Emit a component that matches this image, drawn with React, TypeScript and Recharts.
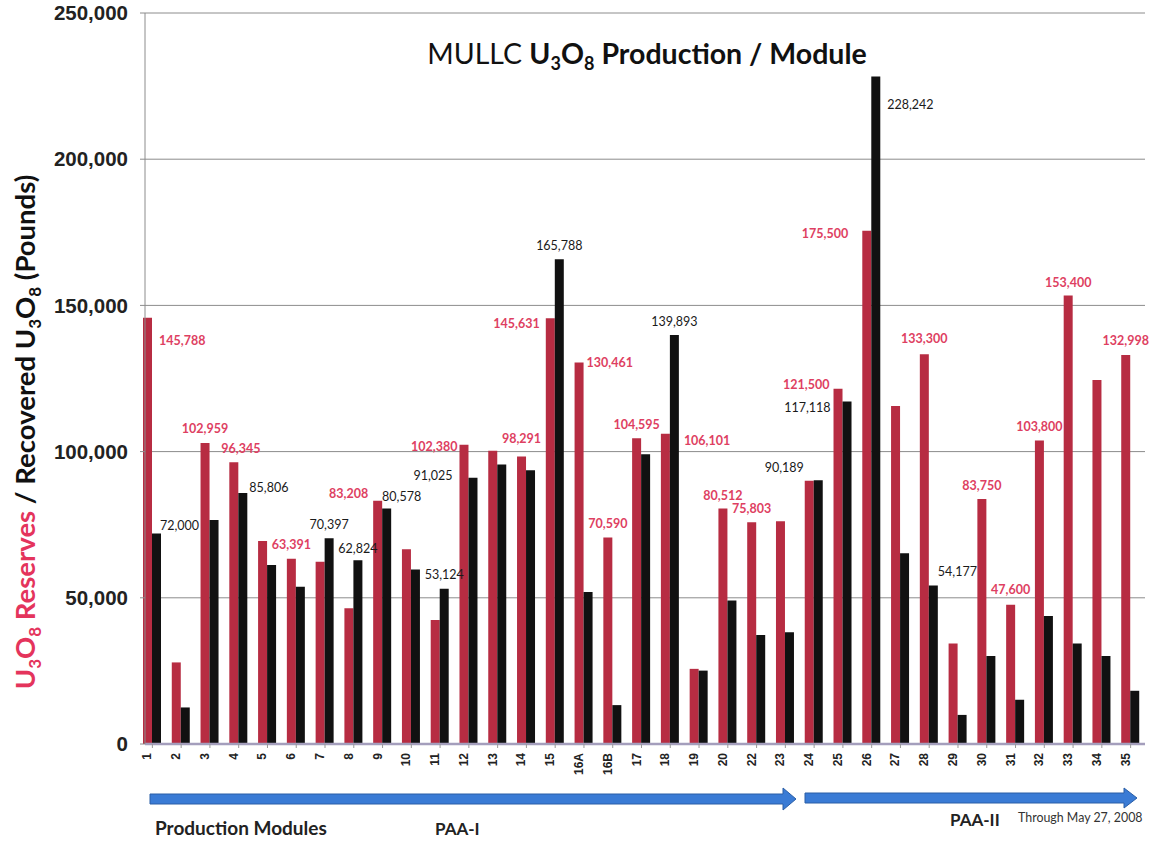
import React from 'react';
import { BarChart, Bar, XAxis, YAxis, CartesianGrid, LabelList } from 'recharts';

const modules = ['1', '2', '3', '4', '5', '6', '7', '8', '9', '10', '11', '12', '13', '14', '15', '16A', '16B', '17', '18', '19', '20', '22', '23', '24', '25', '26', '27', '28', '29', '30', '31', '32', '33', '34', '35'];

const reserves = [145788, 27900, 102959, 96345, 69400, 63391, 62300, 46400, 83208, 66600, 42400, 102380, 100300, 98291, 145631, 130461, 70590, 104595, 106101, 25700, 80512, 75803, 76200, 90000, 121500, 175500, 115600, 133300, 34400, 83750, 47600, 103800, 153400, 124500, 132998];

const recovered = [72000, 12500, 76600, 85806, 61200, 53800, 70397, 62824, 80578, 59700, 53124, 91025, 95600, 93600, 165788, 52000, 13300, 99100, 139893, 25100, 49100, 37300, 38200, 90189, 117118, 228242, 65200, 54177, 9950, 30100, 15150, 43800, 34400, 30100, 18200];

const yTicks = [0, 50000, 100000, 150000, 200000, 250000];

// label layout: [anchor, dx, dy] relative to the bar top
type Place = [string, number, number];
const reservesLabelPlace: Record<string, Place> = {
  '1': ['start', 7, 23], '3': ['middle', 0, -14], '4': ['middle', 7, -14], '6': ['middle', 0, -14],
  '9': ['end', 5, -7], '12': ['end', 2, 2], '14': ['middle', 0, -18], '15': ['end', 6, 5],
  '16A': ['start', 3, 0], '16B': ['middle', 0, -14], '17': ['middle', 0, -14], '18': ['start', 14, 7],
  '20': ['middle', 0, -13], '22': ['middle', 0, -14], '25': ['end', 4, -4], '26': ['end', 14, 3],
  '28': ['middle', 0, -16], '30': ['middle', 0, -14], '31': ['middle', 0, -15], '32': ['middle', 0, -14],
  '33': ['middle', 0, -13], '35': ['middle', 0, -15],
};
const recoveredLabelPlace: Record<string, Place> = {
  '1': ['start', -1, -8], '4': ['start', 2, -6], '7': ['middle', 0, -14], '8': ['middle', 0, -12],
  '9': ['middle', 15, -12], '11': ['middle', 0, -14], '12': ['end', 16, -2], '15': ['middle', 0, -14],
  '18': ['middle', 0, -13], '24': ['end', 10, -13], '25': ['end', 12, 6], '26': ['start', 7, 28],
  '28': ['start', 0, -14],
};

const data = modules.map((m, i) => ({ module: m, reserves: reserves[i], recovered: recovered[i] }));

const RED_BAR = '#B72C42';
const RED_TEXT = '#DE3F62';
const BLACK_BAR = '#111111';
const LABEL_FONT = 'Lato, "Open Sans", sans-serif';

const fmt = (v: number) => v.toLocaleString('en-US');

function makeLabel(places: Record<string, Place>, color: string, bold: boolean) {
  return (props: any) => {
    const vb = props.viewBox || {};
    const x = props.x ?? vb.x;
    const y = props.y ?? vb.y;
    const w = props.width ?? vb.width;
    const idx = props.index;
    const mod = data[idx]?.module;
    const p = mod != null ? places[mod] : undefined;
    if (!p) return null;
    const [anchor, dx, dy] = p;
    let tx = x + w / 2 + dx;
    if (anchor === 'start') tx = x + w + dx;
    if (anchor === 'end') tx = x - dx;
    return (
      <text x={tx} y={y + dy} textAnchor={anchor} dominantBaseline="central" fill={color}
        fontFamily={LABEL_FONT} fontSize={12.5} fontWeight={bold ? 700 : 400}>
        {fmt(Number(props.value))}
      </text>
    );
  };
}

const XTick = (props: any) => {
  const { x, y, payload } = props;
  return (
    <text transform={`translate(${x - 1},${y + 3}) rotate(-90)`} textAnchor="end"
      fontFamily='"Liberation Sans", Arial, sans-serif' fontWeight={700} fontSize={12} fill="#222">
      {payload.value}
    </text>
  );
};

export default function App() {
  return (
    <div style={{ position: 'absolute', left: 0, top: 0, width: 1156, height: 841, background: '#fff' }}>
      <BarChart width={1156} height={841} data={data} margin={{ top: 13, right: 11, bottom: 47, left: 0 }}
        barGap={0}>
        <CartesianGrid vertical={false} stroke="#8c8c8c" strokeWidth={1} />
        <XAxis dataKey="module" interval={0} height={50} padding={{ left: -7, right: 0 }}
          axisLine={{ stroke: '#A49EBC', strokeWidth: 2.5 }} tickLine={{ stroke: '#999' }} tickSize={4}
          tick={<XTick />} />
        <YAxis width={145} domain={[0, 250000]} ticks={yTicks} tickFormatter={fmt}
          axisLine={{ stroke: '#8c8c8c' }} tickLine={{ stroke: '#8c8c8c' }} tickSize={5} tickMargin={12}
          tick={{ fontFamily: '"Liberation Sans", Arial, sans-serif', fontWeight: 700, fontSize: 20.5, fill: '#222' }} />
        <Bar dataKey="reserves" fill={RED_BAR} barSize={9} isAnimationActive={false}>
          <LabelList dataKey="reserves" content={makeLabel(reservesLabelPlace, RED_TEXT, true)} />
        </Bar>
        <Bar dataKey="recovered" fill={BLACK_BAR} barSize={9} isAnimationActive={false}>
          <LabelList dataKey="recovered" content={makeLabel(recoveredLabelPlace, '#1a1a1a', false)} />
        </Bar>
      </BarChart>
      <svg width={1156} height={841} style={{ position: 'absolute', left: 0, top: 0, pointerEvents: 'none' }}>
        <text x={647} y={64} textAnchor="middle" fontFamily={LABEL_FONT} fontSize={28.5} fill="#111">
          <tspan fontWeight={400}>MULLC </tspan>
          <tspan fontWeight={700}>U</tspan>
          <tspan fontWeight={700} fontSize={18} dy={6}>3</tspan>
          <tspan fontWeight={700} dy={-6}>O</tspan>
          <tspan fontWeight={700} fontSize={18} dy={6}>8</tspan>
          <tspan fontWeight={700} dy={-6}> Production / Module</tspan>
        </text>
        <text x={35} y={432} transform="rotate(-90, 35, 432)" textAnchor="middle" fontFamily={LABEL_FONT}
          fontSize={27.5} fontWeight={700} fill="#111">
          <tspan fill="#E4345C">U</tspan>
          <tspan fill="#E4345C" fontSize={17} dy={6}>3</tspan>
          <tspan fill="#E4345C" dy={-6}>O</tspan>
          <tspan fill="#E4345C" fontSize={17} dy={6}>8</tspan>
          <tspan fill="#E4345C" dy={-6}> Reserves</tspan>
          <tspan> / Recovered U</tspan>
          <tspan fontSize={17} dy={6}>3</tspan>
          <tspan dy={-6}>O</tspan>
          <tspan fontSize={17} dy={6}>8</tspan>
          <tspan dy={-6}> (Pounds)</tspan>
        </text>
        <polygon points="150,794 783,794 783,788 796,799 783,810 783,804 150,804"
          fill="#3A7BD5" stroke="#2A5EA6" strokeWidth={1} />
        <polygon points="805,793 1124,793 1124,788 1137,798 1124,808 1124,803 805,803"
          fill="#3A7BD5" stroke="#2A5EA6" strokeWidth={1} />
        <text x={155} y={835} fontFamily={LABEL_FONT} fontSize={19} fontWeight={700} fill="#222">Production Modules</text>
        <text x={435} y={835} fontFamily={LABEL_FONT} fontSize={17} fontWeight={700} fill="#222">PAA-I</text>
        <text x={950} y={826} fontFamily={LABEL_FONT} fontSize={17} fontWeight={700} fill="#222">PAA-II</text>
        <text x={1018} y={822} fontFamily={LABEL_FONT} fontSize={12.4} fill="#333">Through May 27, 2008</text>
      </svg>
    </div>
  );
}
